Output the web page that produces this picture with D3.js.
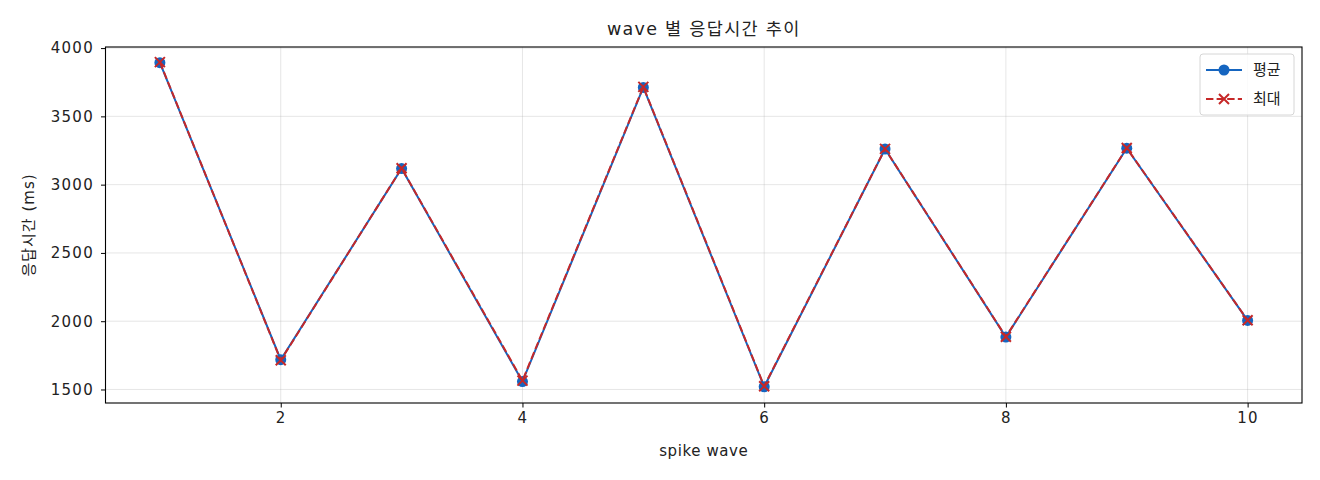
<!DOCTYPE html>
<html>
<head>
<meta charset="utf-8">
<script src="https://cdn.jsdelivr.net/npm/d3@7"></script>
<style>
  body { margin: 0; background: #fff; }
  svg text { font-family: "DejaVu Sans", "Noto Sans CJK KR", sans-serif; fill: #222; }
</style>
</head>
<body>
<div id="chart"></div>
<script>
var waves = [1, 2, 3, 4, 5, 6, 7, 8, 9, 10];
var avgMs = [3893, 1718, 3118, 1558, 3712, 1520, 3261, 1884, 3267, 2006];
var maxMs = [3897, 1714, 3120, 1565, 3716, 1524, 3262, 1886, 3268, 2007];
var xTicks = [2, 4, 6, 8, 10];
var yTicks = [1500, 2000, 2500, 3000, 3500, 4000];

var width = 1320, height = 480;
var margin = {top: 47, right: 18, bottom: 77, left: 105.5};
var font = '"DejaVu Sans", "Noto Sans CJK KR", sans-serif';

var svg = d3.select('#chart').append('svg')
  .attr('width', width).attr('height', height);

var x = d3.scaleLinear().domain([0.55, 10.45])
  .range([margin.left, width - margin.right]);
var y = d3.scaleLinear().domain([1401, 4008])
  .range([height - margin.bottom, margin.top]);

// grid
svg.append('g').selectAll('line').data(xTicks).enter().append('line')
  .attr('x1', function (d) { return x(d); }).attr('x2', function (d) { return x(d); })
  .attr('y1', margin.top).attr('y2', height - margin.bottom)
  .attr('stroke', '#b0b0b0').attr('stroke-opacity', 0.4).attr('stroke-width', 0.8);
svg.append('g').selectAll('line').data(yTicks).enter().append('line')
  .attr('y1', function (d) { return y(d); }).attr('y2', function (d) { return y(d); })
  .attr('x1', margin.left).attr('x2', width - margin.right)
  .attr('stroke', '#b0b0b0').attr('stroke-opacity', 0.4).attr('stroke-width', 0.8);

// axes
var xAxis = svg.append('g')
  .attr('transform', 'translate(0,' + (height - margin.bottom) + ')')
  .call(d3.axisBottom(x).tickValues(xTicks).tickFormat(d3.format('d')).tickSize(4.5).tickPadding(5));
var yAxis = svg.append('g')
  .attr('transform', 'translate(' + margin.left + ',0)')
  .call(d3.axisLeft(y).tickValues(yTicks).tickFormat(d3.format('d')).tickSize(4.5).tickPadding(7));
[xAxis, yAxis].forEach(function (a) {
  a.select('.domain').remove();
  a.selectAll('line').attr('stroke', '#000').attr('stroke-width', 1);
  a.selectAll('text').style('font-size', '15px').style('letter-spacing', '1.3px')
    .attr('fill', '#222').style('font-family', font);
});

// frame
svg.append('rect')
  .attr('x', margin.left).attr('y', margin.top)
  .attr('width', width - margin.right - margin.left)
  .attr('height', height - margin.bottom - margin.top)
  .attr('fill', 'none').attr('stroke', '#000').attr('stroke-width', 1.1);

var blue = '#1565C0', red = '#C62828';

var line = d3.line()
  .x(function (d, i) { return x(waves[i]); })
  .y(function (d) { return y(d); });

// 평균
svg.append('path').datum(avgMs)
  .attr('d', line).attr('fill', 'none')
  .attr('stroke', blue).attr('stroke-width', 2);
svg.append('g').selectAll('circle').data(avgMs).enter().append('circle')
  .attr('cx', function (d, i) { return x(waves[i]); })
  .attr('cy', function (d) { return y(d); })
  .attr('r', 5.5).attr('fill', blue);

// 최대
svg.append('path').datum(maxMs)
  .attr('d', line).attr('fill', 'none')
  .attr('stroke', red).attr('stroke-width', 2)
  .attr('stroke-dasharray', '7.4,3.2');
function cross(g, cx, cy, s) {
  g.append('path')
    .attr('d', 'M' + (cx - s) + ',' + (cy - s) + 'L' + (cx + s) + ',' + (cy + s) +
               'M' + (cx - s) + ',' + (cy + s) + 'L' + (cx + s) + ',' + (cy - s))
    .attr('stroke', red).attr('stroke-width', 2);
}
var crosses = svg.append('g');
maxMs.forEach(function (d, i) { cross(crosses, x(waves[i]), y(d), 5); });

// labels
svg.append('text').attr('x', (margin.left + width - margin.right) / 2).attr('y', 35)
  .attr('text-anchor', 'middle').style('font-size', '17.5px').style('letter-spacing', '1.3px')
  .text('wave 별 응답시간 추이');
svg.append('text').attr('x', (margin.left + width - margin.right) / 2).attr('y', 456)
  .attr('text-anchor', 'middle').style('font-size', '15px').style('letter-spacing', '0.6px')
  .text('spike wave');
svg.append('text')
  .attr('transform', 'translate(34,' + ((margin.top + height - margin.bottom) / 2) + ') rotate(-90)')
  .attr('text-anchor', 'middle').style('font-size', '15px').style('letter-spacing', '1px')
  .text('응답시간 (ms)');

// legend
var lg = svg.append('g').attr('transform', 'translate(1200,54)');
lg.append('rect').attr('width', 94).attr('height', 61).attr('rx', 3)
  .attr('fill', '#fff').attr('fill-opacity', 0.8)
  .attr('stroke', '#d6d6d6').attr('stroke-width', 1);
lg.append('line').attr('x1', 6).attr('x2', 42).attr('y1', 16).attr('y2', 16)
  .attr('stroke', blue).attr('stroke-width', 2);
lg.append('circle').attr('cx', 24).attr('cy', 16).attr('r', 5.5).attr('fill', blue);
lg.append('text').attr('x', 53).attr('y', 21).style('font-size', '15px').text('평균');
lg.append('line').attr('x1', 6).attr('x2', 42).attr('y1', 45).attr('y2', 45)
  .attr('stroke', red).attr('stroke-width', 2).attr('stroke-dasharray', '7.4,3.2');
cross(lg, 24, 45, 5);
lg.append('text').attr('x', 53).attr('y', 50).style('font-size', '15px').text('최대');
</script>
</body>
</html>
